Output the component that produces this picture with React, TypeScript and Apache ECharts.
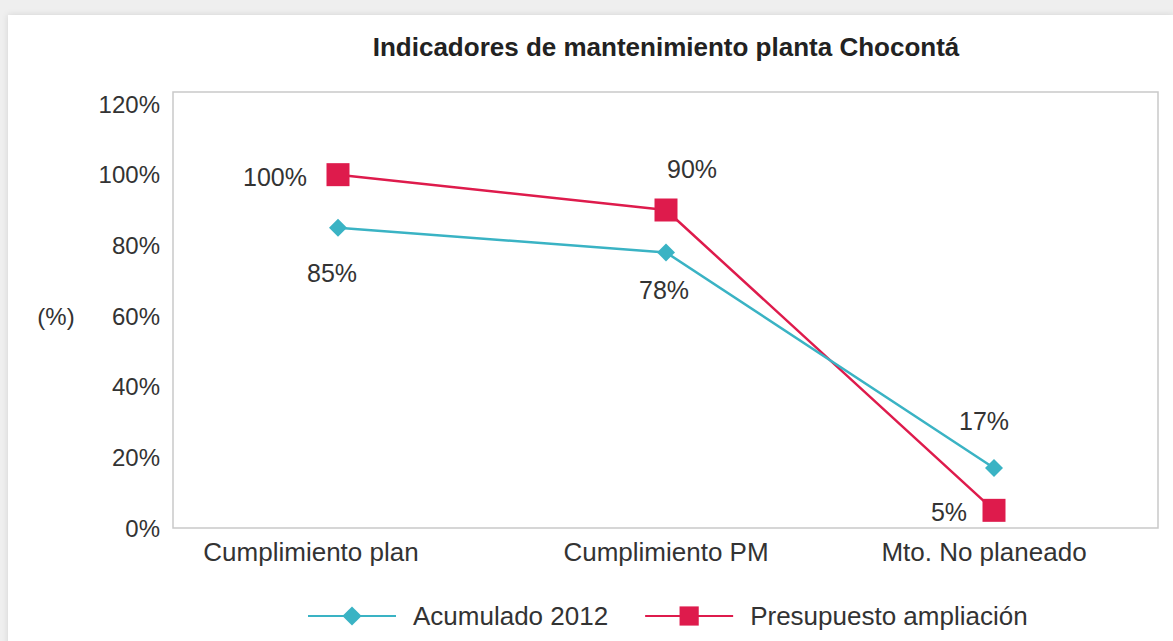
import React, { useEffect, useRef } from "react";
import * as echarts from "echarts";

const categories = ["Cumplimiento plan", "Cumplimiento PM", "Mto. No planeado"];
const acumulado2012 = [85, 78, 17];
const presupuestoAmpliacion = [100, 90, 5];
const yTicks = [0, 20, 40, 60, 80, 100, 120];
const seriesNames = ["Acumulado 2012", "Presupuesto ampliación"];
const titleText = "Indicadores de mantenimiento planta Chocontá";
const yAxisName = "(%)";

const FONT = "'Liberation Sans', Arial, Helvetica, sans-serif";
const TEAL = "#3ab3c4";
const RED = "#de1b4c";

// label offsets (style), relative to each point
const acuOffsets = [[-6, 45], [-2, 38], [-10, -47]];
const preOffsets = [[-63, 2], [26, -41], [-45, 2]];
const catShift = [-27, 0, -10];

export default function App() {
  const ref = useRef<HTMLDivElement>(null);
  useEffect(() => {
    if (!ref.current) return;
    const chart = echarts.init(ref.current, undefined, { renderer: "svg" });
    const labelBase = {
      show: true,
      position: "inside",
      fontSize: 25,
      color: "#333",
      fontFamily: FONT,
      formatter: (p: any) => `${p.value}%`,
    };
    chart.setOption({
      animation: false,
      backgroundColor: "#efefef",
      textStyle: { fontFamily: FONT },
      graphic: [
        {
          type: "rect",
          z: -10,
          shape: { x: 8, y: 15, width: 1165, height: 640 },
          style: { fill: "#ffffff", shadowBlur: 6, shadowColor: "rgba(0,0,0,0.12)" },
          silent: true,
        },
        {
          type: "rect",
          z: -5,
          shape: { x: 173, y: 92, width: 985, height: 436 },
          style: { fill: "none", stroke: "#c9c9c9", lineWidth: 1.5 },
          silent: true,
        },
        {
          type: "text",
          x: 666,
          y: 47,
          style: {
            text: titleText,
            fontSize: 26,
            fontWeight: "bold",
            fontFamily: FONT,
            fill: "#222",
            align: "center",
            verticalAlign: "middle",
          },
        },
        {
          type: "text",
          x: 56,
          y: 316,
          style: {
            text: yAxisName,
            fontSize: 24,
            fontFamily: FONT,
            fill: "#333",
            align: "center",
            verticalAlign: "middle",
          },
        },
      ],
      grid: { left: 174, right: 15, top: 104, bottom: 113, show: false },
      xAxis: {
        type: "category",
        data: categories.map((c, i) => ({
          value: c,
          textStyle: {
            padding: catShift[i] < 0 ? [0, -2 * catShift[i], 0, 0] : [0, 0, 0, 2 * catShift[i]],
          },
        })),
        boundaryGap: true,
        axisLine: { show: false },
        axisTick: { show: false },
        axisLabel: { fontSize: 26, color: "#333", margin: 11, fontFamily: FONT },
        splitLine: { show: false },
      },
      yAxis: {
        type: "value",
        min: yTicks[0],
        max: yTicks[yTicks.length - 1],
        interval: yTicks[1] - yTicks[0],
        axisLine: { show: false },
        axisTick: { show: false },
        splitLine: { show: false },
        axisLabel: {
          formatter: "{value}%",
          fontSize: 24,
          color: "#333",
          margin: 14,
          fontFamily: FONT,
        },
      },
      legend: {
        left: 302,
        top: 598,
        itemWidth: 88,
        itemHeight: 24,
        itemGap: 36,
        data: seriesNames,
        textStyle: { fontSize: 26, color: "#333", fontFamily: FONT, padding: [0, 0, 0, 12] },
      },
      series: [
        {
          name: seriesNames[0],
          type: "line",
          data: acumulado2012.map((v, i) => ({
            value: v,
            label: { ...labelBase, offset: acuOffsets[i] },
          })),
          symbol: "diamond",
          symbolSize: 18,
          lineStyle: { color: TEAL, width: 2.5 },
          itemStyle: { color: TEAL },
          z: 3,
        },
        {
          name: seriesNames[1],
          type: "line",
          data: presupuestoAmpliacion.map((v, i) => ({
            value: v,
            label: { ...labelBase, offset: preOffsets[i] },
          })),
          symbol: "rect",
          symbolSize: 23,
          lineStyle: { color: RED, width: 2.5 },
          itemStyle: { color: RED },
          z: 2,
        },
      ],
    });
    return () => chart.dispose();
  }, []);
  return (
    <div
      ref={ref}
      style={{ position: "fixed", left: 0, top: 0, width: 1173, height: 641 }}
    />
  );
}
